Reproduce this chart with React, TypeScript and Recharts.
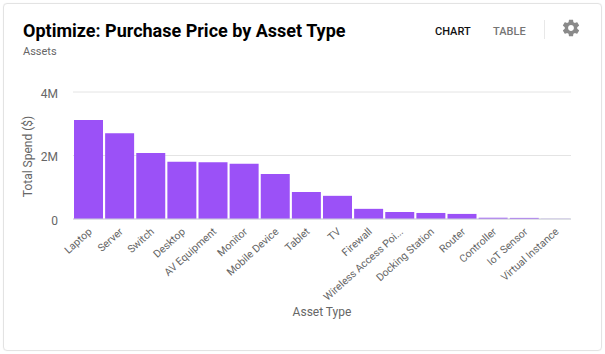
import { BarChart, Bar, XAxis, YAxis, CartesianGrid } from 'recharts';

const assetTypes = [
  'Laptop',
  'Server',
  'Switch',
  'Desktop',
  'AV Equipment',
  'Monitor',
  'Mobile Device',
  'Tablet',
  'TV',
  'Firewall',
  'Wireless Access Poi...',
  'Docking Station',
  'Router',
  'Controller',
  'IoT Sensor',
  'Virtual Instance'
];
const totalSpend = [
  3120000, 2700000, 2080000, 1800000, 1790000, 1740000, 1420000, 850000, 730000, 320000, 220000,
  190000, 160000, 40000, 35000, 5000
];
const spendTicks = [0, 2000000, 4000000];

const chartData = assetTypes.map((name, i) => ({ name, spend: totalSpend[i] }));

const formatSpend = (value: number) => (value === 0 ? '0' : `${value / 1000000}M`);

export default function App() {
  return (
    <div
      style={{
        position: 'absolute',
        left: 0,
        top: 0,
        width: 605,
        height: 354,
        background: '#fff',
        fontFamily: 'Roboto, sans-serif',
        overflow: 'hidden'
      }}
    >
      <div
        style={{
          position: 'absolute',
          left: 3,
          top: 3,
          width: 597,
          height: 346,
          border: '1px solid #e3e3e3',
          borderRadius: 4,
          boxShadow: '0 0 1px #e8e8e8'
        }}
      />
      <div
        style={{
          position: 'absolute',
          left: 23,
          top: 19,
          fontSize: 18,
          lineHeight: '24px',
          fontWeight: 700,
          color: '#000',
          whiteSpace: 'nowrap'
        }}
      >
        Optimize: Purchase Price by Asset Type
      </div>
      <div style={{ position: 'absolute', left: 23, top: 45, fontSize: 11, lineHeight: '14px', color: '#666' }}>
        Assets
      </div>
      <div
        style={{ position: 'absolute', left: 435, top: 25, fontSize: 11, lineHeight: '14px', fontWeight: 500, color: '#111' }}
      >
        CHART
      </div>
      <div
        style={{ position: 'absolute', left: 493, top: 25, fontSize: 11, lineHeight: '14px', fontWeight: 500, color: '#757575' }}
      >
        TABLE
      </div>
      <div style={{ position: 'absolute', left: 544, top: 20, width: 1, height: 19, background: '#e8e8e8' }} />
      <svg style={{ position: 'absolute', left: 561, top: 18 }} width="20" height="20" viewBox="0 0 24 24">
        <path
          fill="#8a8a8a"
          d="M19.43 12.98c.04-.32.07-.64.07-.98s-.03-.66-.07-.98l2.11-1.65c.19-.15.24-.42.12-.64l-2-3.46c-.12-.22-.39-.3-.61-.22l-2.49 1c-.52-.4-1.08-.73-1.69-.98l-.38-2.65C14.46 2.18 14.25 2 14 2h-4c-.25 0-.46.18-.49.42l-.38 2.65c-.61.25-1.17.59-1.69.98l-2.49-1c-.23-.09-.49 0-.61.22l-2 3.46c-.13.22-.07.49.12.64l2.11 1.65c-.04.32-.07.65-.07.98s.03.66.07.98l-2.11 1.65c-.19.15-.24.42-.12.64l2 3.46c.12.22.39.3.61.22l2.49-1c.52.4 1.08.73 1.69.98l.38 2.65c.03.24.24.42.49.42h4c.25 0 .46-.18.49-.42l.38-2.65c.61-.25 1.17-.59 1.69-.98l2.49 1c.23.09.49 0 .61-.22l2-3.46c.12-.22.07-.49-.12-.64l-2.11-1.65zM12 15.5c-1.93 0-3.5-1.57-3.5-3.5s1.57-3.5 3.5-3.5 3.5 1.57 3.5 3.5-1.57 3.5-3.5 3.5z"
        />
      </svg>
      <div style={{ position: 'absolute', left: 0, top: 0 }}>
        <BarChart
          width={605}
          height={354}
          data={chartData}
          margin={{ top: 92, right: 34, bottom: 0, left: 0 }}
          barCategoryGap={1}
        >
          <CartesianGrid vertical={false} stroke="#e4e4e4" />
          <XAxis
            dataKey="name"
            interval={0}
            angle={-42}
            textAnchor="end"
            height={135}
            stroke="#ccd0dc"
            tickLine={false}
            tick={{ fontSize: 10.5, fill: '#666', fontFamily: 'Roboto, sans-serif', dx: -1, dy: 0 }}
            label={{
              value: 'Asset Type',
              position: 'insideBottom',
              offset: 38,
              fontSize: 12,
              fill: '#666',
              fontFamily: 'Roboto, sans-serif'
            }}
          />
          <YAxis
            width={73}
            domain={[0, 4000000]}
            ticks={spendTicks}
            tickFormatter={formatSpend}
            axisLine={false}
            tickLine={false}
            tick={{ fontSize: 12, fill: '#666', fontFamily: 'Roboto, sans-serif', dy: 1.5 }}
            tickMargin={9}
            label={{
              value: 'Total Spend ($)',
              angle: -90,
              position: 'insideLeft',
              offset: 28,
              dy: 1,
              style: { textAnchor: 'middle' },
              fontSize: 12,
              fill: '#666',
              fontFamily: 'Roboto, sans-serif'
            }}
          />
          <Bar dataKey="spend" fill="#9b51f7" isAnimationActive={false} />
        </BarChart>
      </div>
    </div>
  );
}
